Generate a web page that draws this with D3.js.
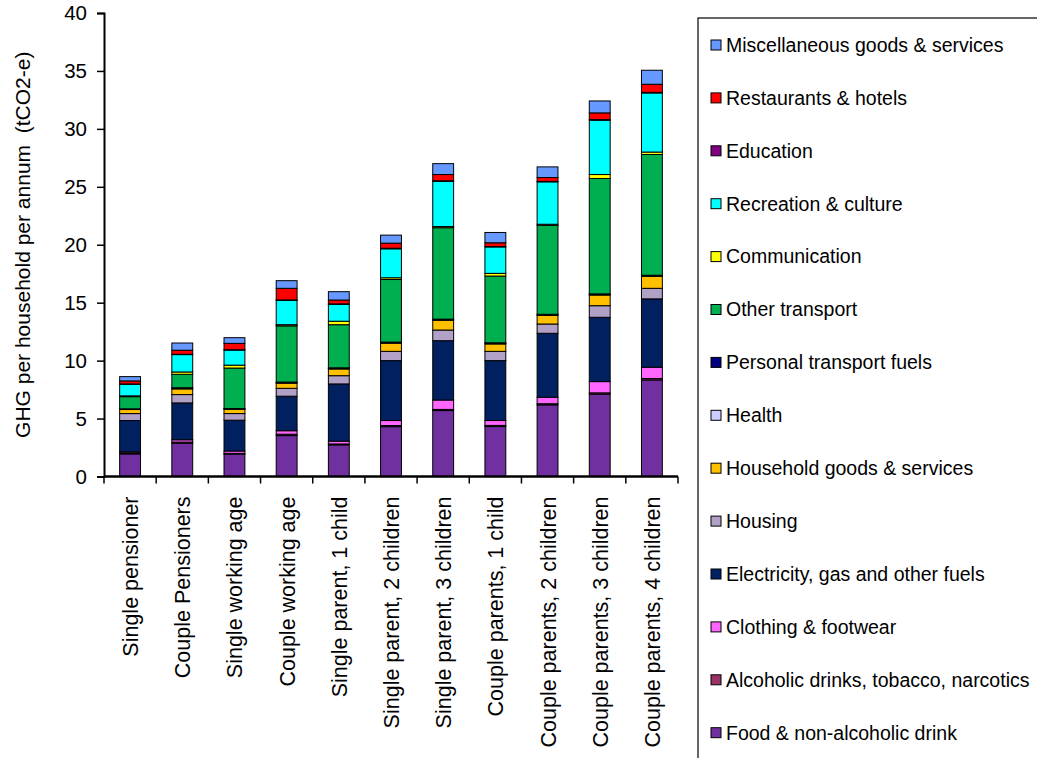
<!DOCTYPE html>
<html>
<head>
<meta charset="utf-8">
<script src="https://cdn.jsdelivr.net/npm/d3@7"></script>
<style>
  body { margin: 0; background: #fff; }
  text { font-family: "Liberation Sans", Arial, sans-serif; fill: #000; }
</style>
</head>
<body>
<div class="chart"></div>
<script>
// household types (x categories)
var households = ["Single pensioner", "Couple Pensioners", "Single working age", "Couple working age",
  "Single parent, 1 child", "Single parent, 2 children", "Single parent, 3 children",
  "Couple parents, 1 child", "Couple parents, 2 children", "Couple parents, 3 children",
  "Couple parents, 4 children"];

// spending categories, bottom of stack first
var categories = ["Food & non-alcoholic drink", "Alcoholic drinks, tobacco, narcotics", "Clothing & footwear",
  "Electricity, gas and other fuels", "Housing", "Household goods & services", "Health",
  "Personal transport fuels", "Other transport", "Communication", "Recreation & culture",
  "Education", "Restaurants & hotels", "Miscellaneous goods & services"];

var colors = ["#7030A0", "#993366", "#FF66FF", "#002060", "#B2A1C7", "#FFC000", "#CCCCFF",
  "#000080", "#00B050", "#FFFF00", "#00FFFF", "#800080", "#FF0000", "#6699FF"];

// tCO2-e per household per annum, one array per category (same order as households)
var food        = [1.95, 2.87, 1.93, 3.53, 2.73, 4.30, 5.69, 4.31, 6.18, 7.10, 8.33];
var alcohol     = [0.08, 0.10, 0.07, 0.12, 0.08, 0.10, 0.10, 0.10, 0.10, 0.12, 0.12];
var clothing    = [0.10, 0.20, 0.20, 0.30, 0.24, 0.43, 0.81, 0.42, 0.56, 0.97, 0.98];
var electricity = [2.70, 3.18, 2.66, 2.98, 4.94, 5.17, 5.12, 5.17, 5.52, 5.55, 5.90];
var housing     = [0.60, 0.72, 0.57, 0.68, 0.71, 0.80, 0.92, 0.80, 0.80, 1.00, 0.91];
var household   = [0.35, 0.49, 0.37, 0.44, 0.58, 0.70, 0.84, 0.64, 0.74, 0.92, 1.03];
var health      = [0.03, 0.05, 0.03, 0.05, 0.05, 0.05, 0.05, 0.05, 0.05, 0.05, 0.05];
var fuels       = [0.03, 0.05, 0.03, 0.05, 0.05, 0.05, 0.05, 0.05, 0.05, 0.05, 0.05];
var otherTrans  = [1.05, 1.16, 3.50, 4.85, 3.72, 5.40, 7.89, 5.76, 7.67, 9.96, 10.42];
var communic    = [0.07, 0.20, 0.25, 0.10, 0.30, 0.15, 0.10, 0.23, 0.10, 0.34, 0.21];
var recreation  = [1.00, 1.50, 1.30, 2.10, 1.46, 2.50, 3.90, 2.28, 3.66, 4.69, 5.10];
var education   = [0.03, 0.03, 0.03, 0.04, 0.04, 0.05, 0.05, 0.04, 0.04, 0.05, 0.05];
var restaurants = [0.26, 0.35, 0.55, 1.00, 0.33, 0.44, 0.54, 0.32, 0.33, 0.58, 0.70];
var misc        = [0.37, 0.62, 0.49, 0.66, 0.72, 0.69, 0.94, 0.89, 0.92, 1.03, 1.21];

var seriesValues = [food, alcohol, clothing, electricity, housing, household, health,
  fuels, otherTrans, communic, recreation, education, restaurants, misc];

var yTicks = [0, 5, 10, 15, 20, 25, 30, 35, 40];

var svgWidth = 1037, svgHeight = 758;
var margin = { top: 13, left: 104, right: 359, bottom: 281.5 };
var width = svgWidth - margin.left - margin.right;
var height = svgHeight - margin.top - margin.bottom;

var svg = d3.select(".chart").append("svg")
  .attr("width", svgWidth)
  .attr("height", svgHeight);

var chartGroup = svg.append("g")
  .attr("transform", `translate(${margin.left}, ${margin.top})`);

// build table for d3.stack
var table = households.map(function(h, i) {
  var row = { household: h };
  categories.forEach(function(c, j) { row[c] = seriesValues[j][i]; });
  return row;
});

var stacked = d3.stack().keys(categories)(table);

var xScale = d3.scaleBand()
  .domain(households)
  .range([0, width])
  .paddingInner(0.6)
  .paddingOuter(0.3);

var yScale = d3.scaleLinear()
  .domain([0, 40])
  .range([height, 0]);

// bars
chartGroup.selectAll(".series")
  .data(stacked)
  .enter()
  .append("g")
  .attr("class", "series")
  .attr("fill", (d, i) => colors[i])
  .selectAll("rect")
  .data(d => d)
  .enter()
  .append("rect")
  .attr("x", d => xScale(d.data.household))
  .attr("y", d => yScale(d[1]))
  .attr("width", xScale.bandwidth())
  .attr("height", d => yScale(d[0]) - yScale(d[1]))
  .attr("stroke", "#000")
  .attr("stroke-width", 1);

// y axis
var yAxis = d3.axisLeft(yScale).tickValues(yTicks).tickSize(7).tickPadding(10);
var yG = chartGroup.append("g").call(yAxis);
yG.select(".domain").attr("stroke-width", 2);
yG.selectAll("line").attr("stroke-width", 1.5);
yG.selectAll("text")
  .style("font-family", "'Liberation Sans', Arial, sans-serif")
  .style("font-size", "20.5px");

// x axis: tick marks between categories (Excel style)
var bounds = d3.range(households.length + 1).map(i => i * width / households.length);
chartGroup.append("line")
  .attr("x1", 0).attr("x2", width)
  .attr("y1", height).attr("y2", height)
  .attr("stroke", "#000").attr("stroke-width", 2.5);
chartGroup.selectAll(".xtick")
  .data(bounds)
  .enter()
  .append("line")
  .attr("x1", d => d).attr("x2", d => d)
  .attr("y1", height).attr("y2", height + 7)
  .attr("stroke", "#000").attr("stroke-width", 1.5);

chartGroup.selectAll(".xlabel")
  .data(households)
  .enter()
  .append("text")
  .attr("transform", d => `translate(${xScale(d) + xScale.bandwidth() / 2 + 8}, ${height + 20}) rotate(-90)`)
  .attr("text-anchor", "end")
  .style("font-size", "21.5px")
  .text(d => d);

// y axis title
svg.append("text")
  .attr("transform", `translate(30, ${margin.top + height / 2}) rotate(-90)`)
  .attr("text-anchor", "middle")
  .style("font-size", "21px")
  .style("white-space", "pre")
  .text("GHG per household per annum  (tCO2-e)");

// legend
var legend = svg.append("g").attr("transform", "translate(698, 18)");
legend.append("rect")
  .attr("x", 0).attr("y", 0)
  .attr("width", 400).attr("height", 800)
  .attr("fill", "none")
  .attr("stroke", "#000")
  .attr("stroke-width", 1.2);

var legendOrder = categories.map((c, i) => i).reverse();
var items = legend.selectAll(".item")
  .data(legendOrder)
  .enter()
  .append("g")
  .attr("transform", (d, i) => `translate(13, ${27 + i * 52.9})`);

items.append("rect")
  .attr("x", 0).attr("y", -5)
  .attr("width", 10).attr("height", 10)
  .attr("fill", d => colors[d])
  .attr("stroke", "#000")
  .attr("stroke-width", 1);

items.append("text")
  .attr("x", 15)
  .attr("dy", "0.35em")
  .style("font-size", "19.5px")
  .text(d => categories[d]);
</script>
</body>
</html>
